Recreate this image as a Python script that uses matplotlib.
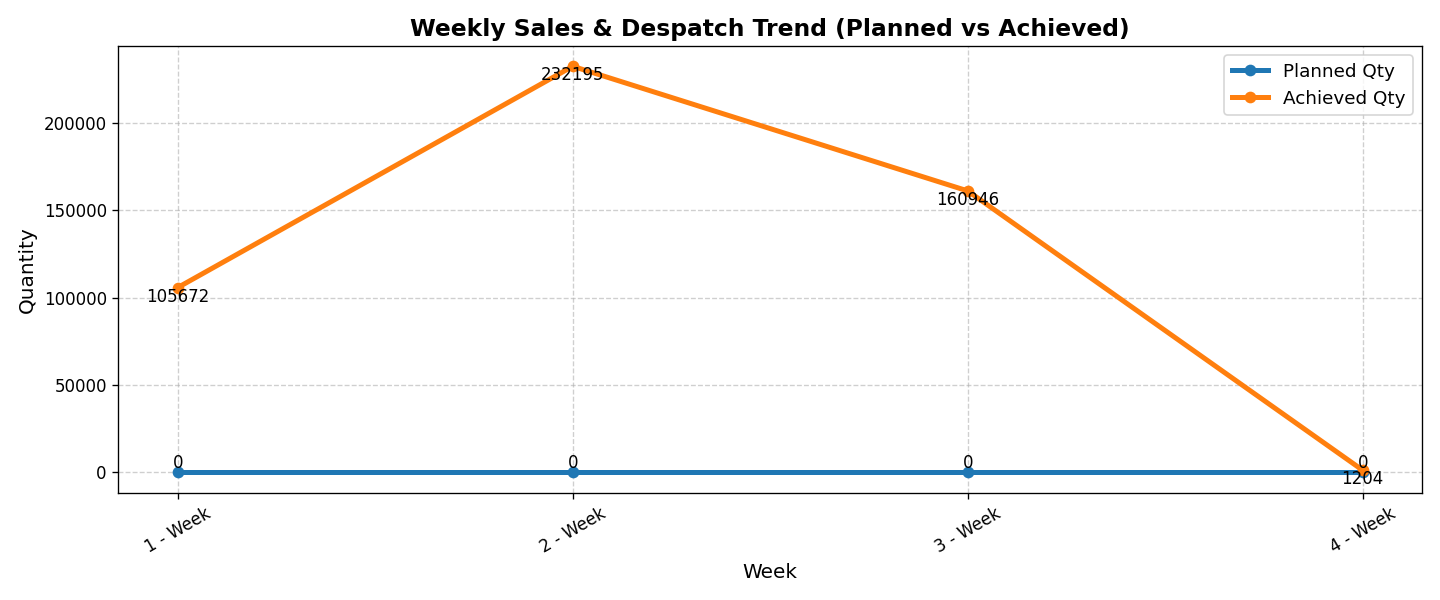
import matplotlib
matplotlib.use("Agg")
import matplotlib.pyplot as plt

weeks = ["1 - Week", "2 - Week", "3 - Week", "4 - Week"]
planned = [0, 0, 0, 0]
achieved = [105672, 232195, 160946, 1204]

fig, ax = plt.subplots(figsize=(12, 5), dpi=120)
ax.plot(weeks, planned, marker="o", linewidth=3, label="Planned Qty")
ax.plot(weeks, achieved, marker="o", linewidth=3, label="Achieved Qty")

for i, v in enumerate(planned):
    ax.text(i, v, str(v), ha="center", va="bottom", fontsize=10)
for i, v in enumerate(achieved):
    ax.text(i, v, str(v), ha="center", va="top", fontsize=10)

ax.set_title("Weekly Sales & Despatch Trend (Planned vs Achieved)", fontsize=14, fontweight="bold")
ax.set_xlabel("Week", fontsize=12)
ax.set_ylabel("Quantity", fontsize=12)
ax.grid(True, linestyle="--", alpha=0.6)
ax.legend(fontsize=11)
plt.xticks(rotation=30)
plt.tight_layout()
plt.savefig("out.png")
